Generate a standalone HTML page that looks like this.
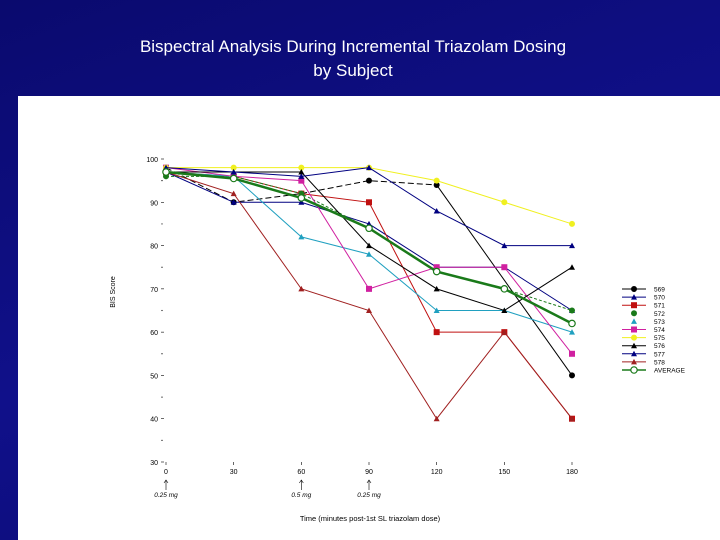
<!DOCTYPE html>
<html><head><meta charset="utf-8"><style>
body{margin:0;width:720px;height:540px;overflow:hidden;background:#0b0b78;font-family:"Liberation Sans",sans-serif}
#bg{position:absolute;left:0;top:0;width:720px;height:540px;background:linear-gradient(160deg,#0a0a6e 0%,#10108a 50%,#0a0a70 100%)}
.t{position:absolute;left:0;width:706px;text-align:center;color:#fff;font-size:17px}
#panel{position:absolute;left:18px;top:96px;width:702px;height:444px;background:#fff}
svg{position:absolute;left:0;top:0}
</style></head><body>
<div id="bg"></div>
<div class="t" style="top:37px">Bispectral Analysis During Incremental Triazolam Dosing</div>
<div class="t" style="top:61px">by Subject</div>
<div id="panel"></div>
<svg id="c" width="720" height="540"></svg>
<script>
const times=[0,30,60,90,120,150,180];
const yTicks=[30,40,50,60,70,80,90,100];
const yMinor=[35,45,55,65,75,85,95];
const names=["569","570","571","572","573","574","575","576","577","578","AVERAGE"];
const s569=[98,90,92,95,94,null,50];
const s570=[97,90,90,85,75,75,65];
const s571=[97,96,92,90,60,60,40];
const s572=[96,96,92,84,74,70,65];
const s573=[97,96,82,78,65,65,60];
const s574=[98,96,95,70,75,75,55];
const s575=[98,98,98,98,95,90,85];
const s576=[97,97,97,80,70,65,75];
const s577=[98,97,96,98,88,80,80];
const s578=[97,92,70,65,40,60,40];
const sAvg=[97,95.5,91,84,74,70,62];
const series=[s569,s570,s571,s572,s573,s574,s575,s576,s577,s578,sAvg];
const styles=[
{c:"#000",m:"circle",d:"6,3",w:1,solidFrom:4},{c:"#000080",m:"tri",w:1},{c:"#c01010",m:"sq",w:1},
{c:"#1a7a1a",m:"circle",d:"3,2",w:1},{c:"#20a0c0",m:"tri",w:1},{c:"#d020a0",m:"sq",w:1},
{c:"#f0f020",m:"circle",w:1},{c:"#000",m:"tri",w:1},{c:"#000080",m:"tri",w:1},
{c:"#a02020",m:"tri",w:1},{c:"#1a7a1a",m:"open",w:2.5}];
const X=t=>166+t*(572-166)/180, Y=v=>159+(100-v)*(462-159)/70;
const svg=document.getElementById('c'),NS="http://www.w3.org/2000/svg";
function el(tag,a,txt){const e=document.createElementNS(NS,tag);for(const k in a)e.setAttribute(k,a[k]);if(txt!=null)e.textContent=txt;svg.appendChild(e);return e;}
function marker(m,x,y,c){let e;
 if(m==="circle")e=el('circle',{cx:x,cy:y,r:3,fill:c});
 else if(m==="open")e=el('circle',{cx:x,cy:y,r:3.2,fill:"#fff",stroke:c,'stroke-width':1.2});
 else if(m==="sq")e=el('rect',{x:x-3,y:y-3,width:6,height:6,fill:c});
 else e=el('polygon',{points:`${x},${y-3} ${x-3},${y+2.5} ${x+3},${y+2.5}`,fill:c});
 return e;}
yTicks.forEach(v=>{const t=el('text',{x:158,y:Y(v)+3,'font-size':7,'text-anchor':'end'},v);
 
 const l=el('line',{x1:161,x2:164,y1:Y(v),y2:Y(v),stroke:'#000','stroke-width':0.6});
 });
yMinor.forEach(v=>{const l=el('circle',{cx:162,cy:Y(v),r:0.6,fill:'#000'});
 });
times.forEach(t=>{const x=X(t);
 const l=el('line',{x1:x,x2:x,y1:462,y2:465,stroke:'#000','stroke-width':0.6});
 
 const tx=el('text',{x:x,y:474,'font-size':7,'text-anchor':'middle'},t);
 });
const yt=el('text',{x:115,y:292,'font-size':7,'text-anchor':'middle',transform:'rotate(-90 115 292)'},'BIS Score');

const xt=el('text',{x:370,y:521,'font-size':7.5,'text-anchor':'middle'},'Time (minutes post-1st SL triazolam dose)');

[[0,'0.25 mg'],[60,'0.5 mg'],[90,'0.25 mg']].forEach(([t,lab])=>{const x=X(t);
 const a=el('path',{d:`M${x},490 L${x},480 M${x-2},483 L${x},480 L${x+2},483`,stroke:'#000',fill:'none','stroke-width':0.6});
 
 const tx=el('text',{x:x,y:497,'font-size':6.5,'font-style':'italic','text-anchor':'middle'},lab);
 });
function pathFor(s,from,to){let d="",started=false;
 for(let j=from;j<=to;j++){const v=s[j];if(v==null)continue;d+=(started?"L":"M")+X(times[j])+","+Y(v);started=true;}
 return d;}
series.forEach((s,i)=>{const st=styles[i];
 const last=s.length-1;
 const split=st.solidFrom!=null?st.solidFrom:last;
 const p=el('path',{d:pathFor(s,0,split),fill:'none',stroke:st.c,'stroke-width':st.w});if(st.d)p.setAttribute('stroke-dasharray',st.d);
 
 if(split<last){const p2=el('path',{d:pathFor(s,split,last),fill:'none',stroke:st.c,'stroke-width':st.w});
  }
 s.forEach((v,j)=>{if(v==null)return;const m=marker(st.m,X(times[j]),Y(v),st.c);
  });
 const ly=289+i*8.1;
 if(i!==3&&i!==4){const ll=el('line',{x1:622,x2:646,y1:ly,y2:ly,stroke:st.c,'stroke-width':Math.min(st.w,1.5)});
  }
 const lm=marker(st.m,634,ly,st.c);
 const lt=el('text',{x:654,y:ly+2.5,'font-size':6.5},names[i]);
 });
</script>
</body></html>
